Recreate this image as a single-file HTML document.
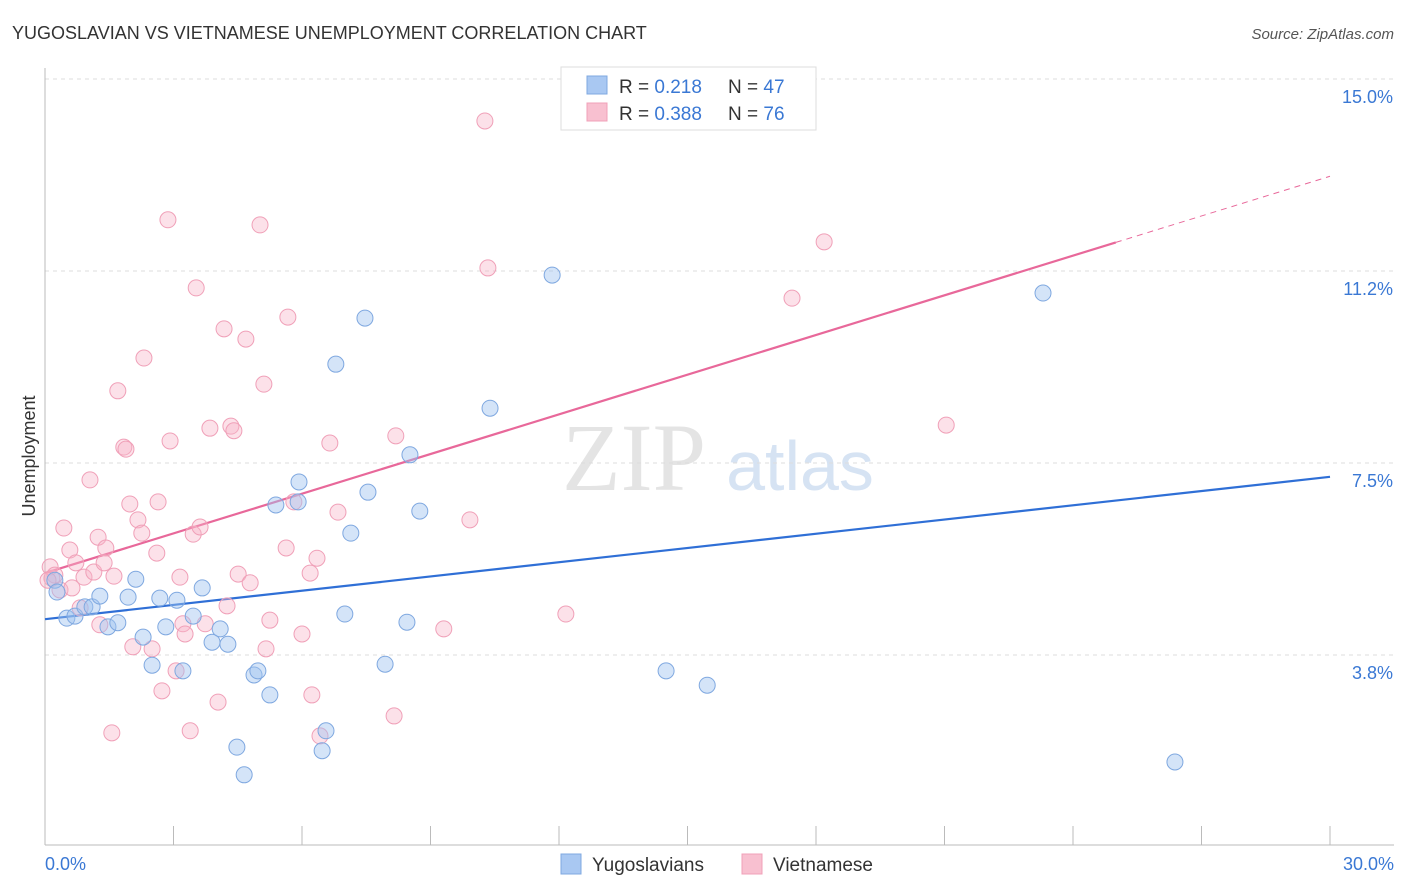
<!DOCTYPE html>
<html><head><meta charset="utf-8"><style>
body{margin:0;background:#fff;font-family:"Liberation Sans",sans-serif;}
svg{display:block}
</style></head><body>
<svg id="chart" width="1406" height="892">
<text x="12" y="39" font-size="18" fill="#333">YUGOSLAVIAN VS VIETNAMESE UNEMPLOYMENT CORRELATION CHART</text>
<text x="1394" y="39" font-size="15" fill="#555" text-anchor="end" font-style="italic">Source: ZipAtlas.com</text>
<text x="634" y="490" font-size="96" fill="#e4e4e4" font-family="Liberation Serif,serif" text-anchor="middle">ZIP</text>
<text x="800" y="490" font-size="70" fill="#d6e3f3" text-anchor="middle">atlas</text>
<g id="grid"></g><g id="axes"></g><g id="lines"></g><g id="pts"></g>
<text x="35" y="456" font-size="18" fill="#333" text-anchor="middle" transform="rotate(-90 35 456)">Unemployment</text>
<text x="45" y="870" font-size="18" fill="#3a78d4">0.0%</text>
<text x="1394" y="870" font-size="18" fill="#3a78d4" text-anchor="end">30.0%</text>
<g>
<rect x="561" y="67" width="255" height="63" fill="#fff" stroke="#ddd"/>
<rect x="587" y="76" width="20" height="18" fill="#a9c8f2" stroke="#7fa8e0"/>
<rect x="587" y="103" width="20" height="18" fill="#f8c0d0" stroke="#f0a0b8"/>
<text x="619" y="93" font-size="19" fill="#333">R = <tspan fill="#3a78d4">0.218</tspan><tspan x="728">N = </tspan><tspan fill="#3a78d4">47</tspan></text>
<text x="619" y="120" font-size="19" fill="#333">R = <tspan fill="#3a78d4">0.388</tspan><tspan x="728">N = </tspan><tspan fill="#3a78d4">76</tspan></text>
</g>
<g>
<rect x="561" y="854" width="20" height="20" fill="#a9c8f2" stroke="#7fa8e0"/>
<text x="592" y="871" font-size="19" fill="#333">Yugoslavians</text>
<rect x="742" y="854" width="20" height="20" fill="#f8c0d0" stroke="#f0a0b8"/>
<text x="773" y="871" font-size="19" fill="#333">Vietnamese</text>
</g>
</svg>
<script>
const yTicks=[15,11.25,7.5,3.75];
const yTickLabels=["15.0%","11.2%","7.5%","3.8%"];
const xTicks=[0,3,6,9,12,15,18,21,24,27,30];
const blueX=[0.23,0.28,0.51,0.70,0.93,1.10,1.28,1.47,1.70,1.94,2.12,2.29,2.50,2.68,2.82,3.08,3.22,3.46,3.67,3.90,4.09,4.27,4.48,4.65,4.88,4.97,5.25,5.39,5.91,5.93,6.47,6.56,7.00,7.14,7.47,6.79,7.54,7.94,8.45,8.52,8.75,10.39,11.84,14.50,15.46,23.30,26.38];
const blueY=[5.21,4.98,4.47,4.51,4.69,4.69,4.90,4.30,4.38,4.88,5.23,4.10,3.55,4.86,4.30,4.82,3.44,4.51,5.06,4.00,4.26,3.96,1.95,1.41,3.36,3.44,2.97,6.68,6.74,7.13,1.88,2.27,4.55,6.13,10.33,9.43,6.93,3.57,4.39,7.66,6.56,8.57,11.17,3.44,3.16,10.82,1.66];
const pinkX=[0.12,0.16,0.23,0.35,0.44,0.58,0.63,0.72,0.91,1.05,1.14,1.24,1.28,1.42,1.56,1.61,1.70,1.84,1.89,1.98,2.05,2.17,2.26,2.31,2.50,2.61,2.64,2.73,2.87,2.92,3.06,3.15,3.22,3.27,3.39,3.46,3.53,3.62,3.74,3.85,4.04,4.18,4.25,4.34,4.41,4.51,4.69,4.79,5.02,5.11,5.16,5.25,5.63,5.67,5.81,6.00,6.23,6.19,6.35,6.42,6.65,6.84,8.19,8.15,9.31,9.92,10.27,10.34,12.16,12.49,17.44,18.19,21.04,0.07,0.82,1.38];
const pinkY=[5.47,5.25,5.31,5.02,6.23,5.80,5.06,5.55,5.27,7.17,5.37,6.05,4.34,5.84,2.23,5.29,8.91,7.81,7.77,6.70,3.91,6.39,6.13,9.55,3.87,5.74,6.74,3.05,12.25,7.93,3.44,5.27,4.36,4.16,2.27,6.11,10.92,6.25,4.36,8.18,2.83,10.12,4.71,8.22,8.13,5.33,9.92,5.16,12.15,9.04,3.87,4.43,5.84,10.35,6.74,4.16,2.97,5.35,5.64,2.17,7.89,6.54,8.03,2.56,4.26,6.39,14.18,11.31,4.55,14.59,10.72,11.82,8.24,5.21,4.67,5.55];
const blueTrend=[4.45,7.23];
const pinkTrend=[5.35,13.1];
const pinkSolidEnd=25;
const X=v=>45+v/30*1285, Y=v=>847-v/15*768;
const NS="http://www.w3.org/2000/svg";
function mk(p,t,a){const e=document.createElementNS(NS,t);for(const k in a)e.setAttribute(k,a[k]);document.getElementById(p).appendChild(e);return e;}
yTicks.forEach((t,i)=>{
 const l=mk('grid','line',{x1:45,x2:1394,y1:Y(t),y2:Y(t),stroke:'#ddd','stroke-dasharray':'4,4'});
 
 
 const tx=mk('grid','text',{x:1393,y:Y(t)+24,'font-size':18,fill:'#3a78d4','text-anchor':'end'});
 tx.textContent=yTickLabels[i];
 
 
});
const ya=mk('axes','line',{x1:45,x2:45,y1:68,y2:845,stroke:'#bbb'});


const xa=mk('axes','line',{x1:45,x2:1394,y1:845,y2:845,stroke:'#bbb'});


xTicks.forEach(t=>{
 const l=mk('axes','line',{x1:X(t),x2:X(t),y1:826,y2:845,stroke:'#bbb'});
 
 
});
function pts(xs,ys,fill,stroke,name){xs.forEach((x,i)=>{
 const c=mk('pts','circle',{cx:X(x),cy:Y(ys[i]),r:8,fill:fill,stroke:stroke,'stroke-width':1});
 
 
});}
pts(pinkX,pinkY,'rgba(248,180,200,0.4)','#f0a0b8','vietnamese-point');
pts(blueX,blueY,'rgba(160,195,240,0.45)','#7fa8e0','yugoslavian-point');
const bl=mk('lines','line',{x1:X(0),y1:Y(blueTrend[0]),x2:X(30),y2:Y(blueTrend[1]),stroke:'#2f6fd6','stroke-width':2.2});


const pm=pinkTrend[0]+(pinkTrend[1]-pinkTrend[0])*pinkSolidEnd/30;
const pl=mk('lines','line',{x1:X(0),y1:Y(pinkTrend[0]),x2:X(pinkSolidEnd),y2:Y(pm),stroke:'#e8689a','stroke-width':2.2});


const pd=mk('lines','line',{x1:X(pinkSolidEnd),y1:Y(pm),x2:X(30),y2:Y(pinkTrend[1]),stroke:'#e8689a','stroke-width':1,'stroke-dasharray':'6,5'});


</script>
</body></html>
